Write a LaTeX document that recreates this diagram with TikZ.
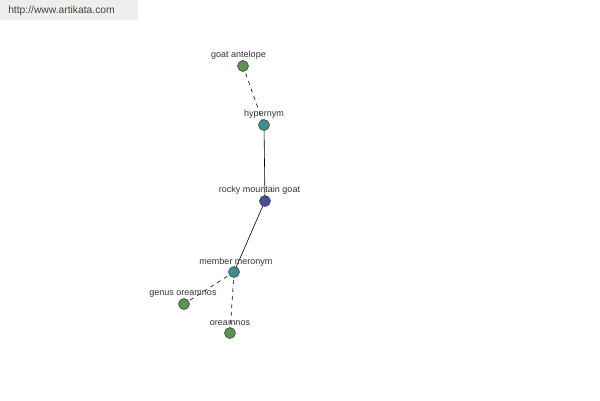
\documentclass[tikz,border=0pt]{standalone}
\usepackage{fontspec}
\setmainfont{Liberation Sans}
\definecolor{gnode}{HTML}{5A9450}
\definecolor{tnode}{HTML}{3E9090}
\definecolor{bnode}{HTML}{4A4E9A}
\definecolor{hdrbg}{HTML}{EEEEEE}
\definecolor{hdrtx}{HTML}{3A4A30}
\definecolor{lbl}{HTML}{333333}
\tikzset{
  dot/.style={circle, draw=black!80, line width=0.5pt, minimum size=11pt, inner sep=0pt},
  lab/.style={font=\fontsize{9pt}{10pt}\selectfont, text=lbl, inner sep=0pt},
  link/.style={line width=0.6pt, black},
  dlink/.style={line width=0.6pt, black, dash pattern=on 4pt off 4pt}
}
\begin{document}
\begin{tikzpicture}[x=1pt,y=-1pt]
\useasboundingbox (0,0) rectangle (600,400);
\fill[white] (0,0) rectangle (600,400);
\fill[hdrbg] (0,0) rectangle (138,20);
\node[font=\fontsize{10.3pt}{11pt}\selectfont, text=hdrtx, inner sep=0pt] (hdr) at (61.5,11) {http://www.artikata.com};

\coordinate (ga) at (243,66);
\coordinate (hy) at (264,125);
\coordinate (rmg) at (265,201);
\coordinate (mm) at (234,272);
\coordinate (gor) at (184,304);
\coordinate (ore) at (230,333);

\draw[dlink] (ga) -- (hy);
\draw[link] (hy) -- (rmg);
\draw[link] (rmg) -- (mm);
\draw[dlink] (mm) -- (gor);
\draw[dlink] (mm) -- (ore);

\node[dot, fill=gnode] (n1) at (ga) {};
\node[dot, fill=tnode] (n2) at (hy) {};
\node[dot, fill=bnode] (n3) at (rmg) {};
\node[dot, fill=tnode] (n4) at (mm) {};
\node[dot, fill=gnode] (n5) at (gor) {};
\node[dot, fill=gnode] (n6) at (ore) {};

\node[lab] (l1) at (238.5,55) {goat antelope};
\node[lab] (l2) at (264,114) {hypernym};
\node[lab] (l3) at (259.5,190) {rocky mountain goat};
\node[lab] (l4) at (236,262) {member meronym};
\node[lab] (l5) at (183,294) {genus oreamnos};
\node[lab] (l6) at (230,323) {oreamnos};
\end{tikzpicture}
\end{document}
